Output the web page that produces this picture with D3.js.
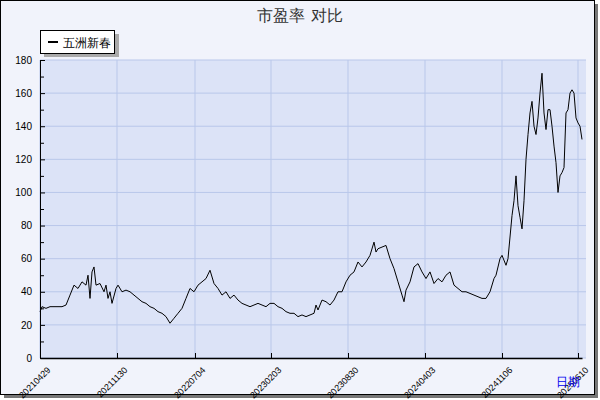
<!DOCTYPE html>
<html><head><meta charset="utf-8">
<script src="https://cdn.jsdelivr.net/npm/d3@7"></script>
<style>body{margin:0;background:#fff}svg{font-family:"DejaVu Sans",sans-serif}</style>
</head><body><svg id="c" width="600" height="400"></svg>
<script>
const series = "五洲新春";
const tIdx = [0,2,6,10,14,18,22,26,30,34,38,42,46,48,50,52,54,56,60,64,66,68,70,72,76,78,82,86,90,94,98,102,106,110,114,118,122,126,130,134,138,142,146,150,154,158,162,166,170,174,178,182,186,190,194,198,202,206,210,214,218,222,226,230,234,238,242,246,250,254,258,262,266,270,274,276,278,282,286,290,294,298,302,306,310,314,318,322,326,330,334,336,338,342,346,350,354,358,362,364,366,370,374,378,382,386,390,394,398,402,406,410,414,418,422,426,430,434,438,442,446,450,454,456,460,462,466,468,472,474,476,478,480,482,484,486,488,490,492,494,496,498,500,502,504,506,508,510,512,514,516,518,520,522,524,526,528,530,532,534,536,538,540,542];
const values = [28,31,30,31,31,31,31,32,38,44,42,46,44,50,36,52,55,44,45,40,44,36,40,33,42,44,40,41,40,38,36,34,33,31,30,28,27,25,21,24,27,30,36,42,40,44,46,48,53,45,42,38,40,36,38,35,33,32,31,32,33,32,31,33,33,31,30,28,27,27,25,26,25,26,27,32,29,35,34,32,35,40,40,46,50,52,58,55,58,62,70,64,66,67,68,60,54,46,38,34,41,46,55,57,52,48,52,45,48,46,50,52,44,42,40,40,39,38,37,36,36,40,48,50,60,62,56,60,86,95,110,92,85,78,95,120,135,148,155,140,135,145,160,172,148,138,150,150,140,128,118,100,110,112,115,148,150,160,162,160,145,142,140,132];
const tickPos = [0,77,155,231,308,385,462,538];
const tickLabels = ["20210429","20211130","20220704","20230203","20230830","20240403","20241106","20250610"];
const yTicks = [0,20,40,60,80,100,120,140,160,180];

const svg = d3.select("#c");
svg.append("rect").attr("x",4).attr("y",4).attr("width",594).attr("height",394).attr("fill","#777");
svg.append("rect").attr("x",0.5).attr("y",0.5).attr("width",594).attr("height",394).attr("fill","#f1f3fb").attr("stroke","#000");
const L=40,R=582,T=60,B=358;
const x = d3.scaleLinear().domain([0,542]).range([L,R]);
const y = d3.scaleLinear().domain([0,180]).range([B,T]);
svg.append("rect").attr("x",L).attr("y",T).attr("width",R-L+4).attr("height",B-T).attr("fill","#dce3f7");
const g = svg.append("g");
g.selectAll(".hg").data(yTicks).join("line").attr("x1",L).attr("x2",R+4).attr("y1",d=>y(d)).attr("y2",d=>y(d)).attr("stroke","#b9c7ea");
g.selectAll(".vg").data(tickPos).join("line").attr("x1",d=>x(d)).attr("x2",d=>x(d)).attr("y1",T).attr("y2",B).attr("stroke","#b9c7ea");
const ya = svg.append("g").attr("transform",`translate(${L},0)`).call(d3.axisLeft(y).tickValues(yTicks).tickSize(0).tickPadding(8));
ya.select(".domain").attr("stroke","#000");
ya.selectAll("text").attr("font-size",10).attr("fill","#000");
svg.append("g").attr("transform",`translate(${L},0)`).call(d3.axisLeft(y).tickValues(d3.range(10,180,20)).tickSize(-4).tickFormat("")).select(".domain").remove();
svg.append("g").attr("transform",`translate(${L},0)`).call(d3.axisLeft(y).tickValues(yTicks).tickSize(-5).tickFormat("")).select(".domain").remove();
const xa = svg.append("g").attr("transform",`translate(0,${B})`).call(d3.axisBottom(x).tickValues(tickPos).tickFormat((d,i)=>tickLabels[i]).tickSizeInner(-5).tickSizeOuter(0));
xa.select(".domain").attr("stroke","#000").attr("stroke-width",1.5);
xa.selectAll("text").attr("font-size",9).attr("fill","#000").attr("text-anchor","end").attr("transform","translate(4,6) rotate(-45)");
const line = d3.line().x((d,i)=>x(tIdx[i])).y(d=>y(d));
svg.append("path").datum(values).attr("d",line).attr("fill","none").attr("stroke","#000").attr("stroke-width",1);
svg.append("text").attr("x",300).attr("y",21).attr("text-anchor","middle").attr("font-size",16).attr("fill","#333").text("市盈率  对比");
svg.append("text").attr("x",580).attr("y",386).attr("text-anchor","end").attr("font-size",12).attr("fill","#0000ee").text("日期");
svg.append("rect").attr("x",44).attr("y",34).attr("width",75).attr("height",23).attr("fill","#aaa");
svg.append("rect").attr("x",40.5).attr("y",30.5).attr("width",74).attr("height",23).attr("fill","#fff").attr("stroke","#000");
svg.append("line").attr("x1",48).attr("x2",58).attr("y1",42).attr("y2",42).attr("stroke","#000").attr("stroke-width",2);
svg.append("text").attr("x",63).attr("y",47).attr("font-size",12).text(series);
</script></body></html>
